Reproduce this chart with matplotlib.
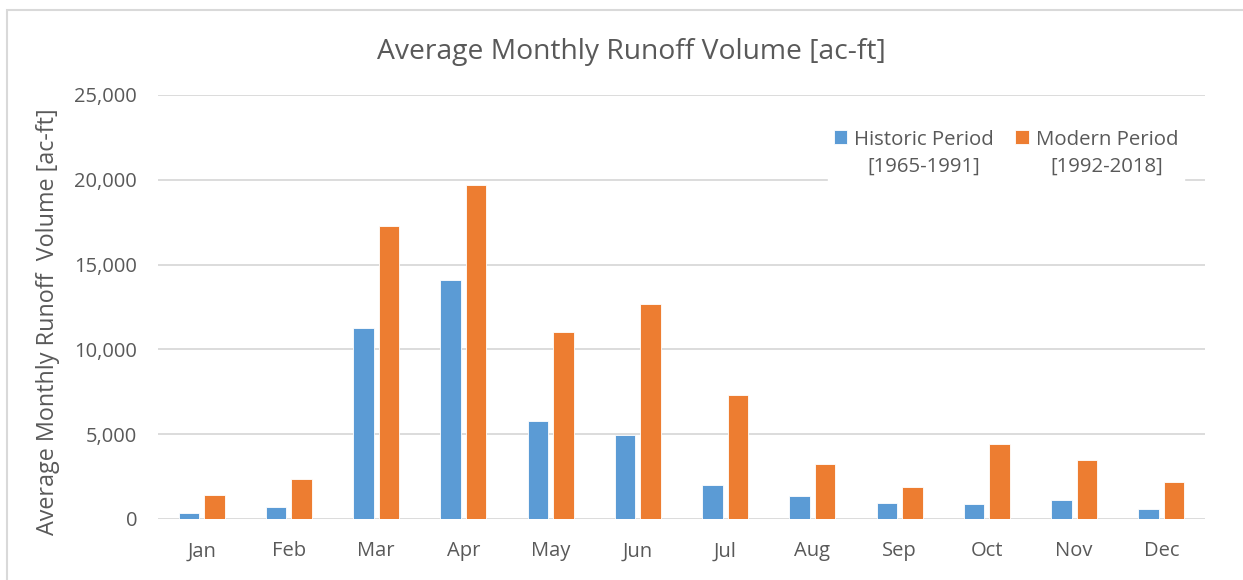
import numpy as np
import matplotlib.pyplot as plt
from matplotlib.patches import Rectangle
from matplotlib.ticker import FuncFormatter

months = ["Jan", "Feb", "Mar", "Apr", "May", "Jun",
          "Jul", "Aug", "Sep", "Oct", "Nov", "Dec"]
historic = [340, 725, 11235, 14120, 5800, 4980, 2005, 1340, 945, 870, 1120, 590]
modern = [1400, 2340, 17270, 19680, 11040, 12690, 7335, 3230, 1870, 4445, 3465, 2170]
series_labels = ["Historic Period\n[1965-1991]", "Modern Period\n[1992-2018]"]
yticks = [0, 5000, 10000, 15000, 20000, 25000]

plt.rcParams['font.family'] = ['Open Sans', 'DejaVu Sans']
text_col = '#595959'
grid_col = '#D9D9D9'

fig = plt.figure(figsize=(12.43, 5.8), dpi=100)
fig.patches.append(Rectangle((7 / 1243, -0.1), 1.2, (580 - 10) / 580 + 0.1,
                             transform=fig.transFigure, fill=False,
                             edgecolor='#D9D9D9', linewidth=1.5, zorder=0))

ax = fig.add_axes([158 / 1243, 61 / 580, (1205 - 158) / 1243, (519 - 95) / 580])

x = np.arange(len(months))
w = 0.235
ax.bar(x - 0.145, historic, width=w, color='#5B9BD5', edgecolor='white',
       linewidth=0.6, label=series_labels[0], zorder=3)
ax.bar(x + 0.145, modern, width=w, color='#ED7D31', edgecolor='white',
       linewidth=0.6, label=series_labels[1], zorder=3)

ax.set_xlim(-0.5, len(months) - 0.5)
ax.set_ylim(0, 25000)
ax.set_yticks(yticks)
ax.yaxis.set_major_formatter(FuncFormatter(lambda v, p: "{:,.0f}".format(v)))
ax.set_xticks(x)
ax.set_xticklabels(months)
ax.tick_params(axis='both', length=0, colors=text_col, labelsize=14.5)
ax.tick_params(axis='x', pad=16)
ax.tick_params(axis='y', pad=15)
ax.grid(axis='y', color=grid_col, linewidth=1.3, zorder=0)
ax.set_axisbelow(True)
for s in ax.spines.values():
    s.set_visible(False)

ax.set_ylabel("Average Monthly Runoff  Volume [ac-ft]", color=text_col,
              fontsize=16.8)
ax.yaxis.set_label_coords((60 - 158) / 1047, 0.465)
fig.text(631 / 1243, 1 - 52 / 580,
         "Average Monthly Runoff Volume [ac-ft]", ha='center', va='center',
         color=text_col, fontsize=20.3)

leg = ax.legend(loc='upper right', bbox_to_anchor=(0.99, 0.955), ncol=2,
                frameon=True, fancybox=False, fontsize=14.7, handlelength=0.65,
                handleheight=0.65, handletextpad=0.35, columnspacing=1.05,
                borderpad=0.3)
leg.get_frame().set_facecolor('white')
leg.get_frame().set_edgecolor('white')
leg.get_frame().set_alpha(1)
for t in leg.get_texts():
    t.set_color(text_col)
    t.set_multialignment('center')
    t.set_linespacing(1.45)
# put the colour square next to the first line of each label
for col in leg._legend_handle_box.get_children():
    for row in col.get_children():
        row.align = 'top'

fig.savefig("out.png", dpi=100)
